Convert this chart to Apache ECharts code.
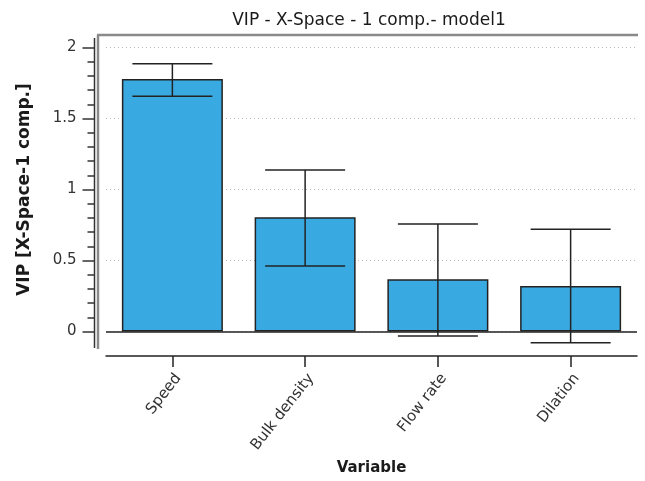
<!DOCTYPE html>
<html>
<head>
<meta charset="utf-8">
<script src="https://cdn.jsdelivr.net/npm/echarts@6/dist/echarts.min.js"></script>
<style>
  html, body { margin: 0; padding: 0; background: #fff; }
  #chart { width: 645px; height: 481px; }
</style>
</head>
<body>
<div id="chart"></div>
<script>
// VIP values per variable, with error bar limits
const categories = ['Speed', 'Bulk density', 'Flow rate', 'Dilation'];
const vipValues = [1.778, 0.804, 0.368, 0.32];
const errLow = [1.656, 0.461, -0.032, -0.079];
const errHigh = [1.886, 1.137, 0.757, 0.72];
const yMin = 0;
const yMax = 2;
const yStep = 0.5;

const font = 'DejaVu Sans, Verdana, sans-serif';
const errData = categories.map((c, i) => [i, errLow[i], errHigh[i]]);

const chart = echarts.init(document.getElementById('chart'));
chart.setOption({
  animation: false,
  backgroundColor: '#fff',
  title: {
    text: 'VIP - X-Space - 1 comp.- model1',
    left: 364,
    top: 7,
    textAlign: 'center',
    textStyle: { fontFamily: font, fontSize: 17, fontWeight: 'normal', color: '#1a1a1a' }
  },
  grid: {
    left: 106, right: 8, top: 47.5, bottom: 149.5,
    containLabel: false,
    outerBoundsMode: 'none'
  },
  xAxis: {
    type: 'category',
    data: categories,
    offset: 24.5,
    name: 'Variable',
    nameLocation: 'middle',
    nameGap: 105,
    nameTextStyle: { fontFamily: font, fontSize: 15, fontWeight: 'bold', color: '#1a1a1a' },
    axisLine: { show: true, onZero: false, lineStyle: { color: '#222', width: 1.5 } },
    axisTick: { show: true, interval: 0, alignWithLabel: true, length: 11, lineStyle: { color: '#222', width: 1.5 } },
    axisLabel: { interval: 0, rotate: 52, margin: 15, verticalAlign: 'top', fontFamily: font, fontSize: 15, color: '#333' }
  },
  yAxis: {
    type: 'value',
    min: yMin,
    max: yMax,
    interval: yStep,
    offset: 11.5,
    name: 'VIP [X-Space-1 comp.]',
    nameLocation: 'middle',
    nameGap: 61,
    nameTextStyle: { fontFamily: font, fontSize: 17, fontWeight: 'bold', color: '#1a1a1a' },
    axisLine: { show: false },
    axisTick: { show: true, length: 12, lineStyle: { color: '#333', width: 1.5 } },
    minorTick: { show: true, splitNumber: 5, length: 7, lineStyle: { color: '#333', width: 1.5 } },
    axisLabel: { margin: 18, fontFamily: font, fontSize: 15, color: '#333' },
    splitLine: { show: true, lineStyle: { color: '#bbb', type: [1, 3], width: 1 } }
  },
  graphic: [
    { type: 'line', shape: { x1: 97, y1: 35, x2: 638, y2: 35 }, style: { stroke: '#8a8a8a', lineWidth: 2.5 }, z: 10 },
    { type: 'line', shape: { x1: 98, y1: 35, x2: 98, y2: 349 }, style: { stroke: '#8a8a8a', lineWidth: 2.5 }, z: 10 },
    { type: 'line', shape: { x1: 94.5, y1: 38, x2: 94.5, y2: 348 }, style: { stroke: '#333', lineWidth: 1.5 }, z: 10 }
  ],
  series: [
    {
      type: 'bar',
      data: vipValues,
      barWidth: 101,
      itemStyle: { color: '#39aae1', borderColor: '#222', borderWidth: 1.5 },
      markLine: {
        silent: true,
        symbol: 'none',
        label: { show: false },
        lineStyle: { color: '#222', type: 'solid', width: 1.5 },
        data: [{ yAxis: 0 }]
      }
    },
    {
      type: 'custom',
      data: errData,
      clip: false,
      z: 5,
      renderItem: function (params, api) {
        const x = api.value(0);
        const lo = api.coord([x, api.value(1)]);
        const hi = api.coord([x, api.value(2)]);
        const half = 40;
        const style = { stroke: '#222', lineWidth: 1.5 };
        return {
          type: 'group',
          children: [
            { type: 'line', shape: { x1: hi[0], y1: hi[1], x2: lo[0], y2: lo[1] }, style: style },
            { type: 'line', shape: { x1: hi[0] - half, y1: hi[1], x2: hi[0] + half, y2: hi[1] }, style: style },
            { type: 'line', shape: { x1: lo[0] - half, y1: lo[1], x2: lo[0] + half, y2: lo[1] }, style: style }
          ]
        };
      }
    }
  ]
});
</script>
</body>
</html>
